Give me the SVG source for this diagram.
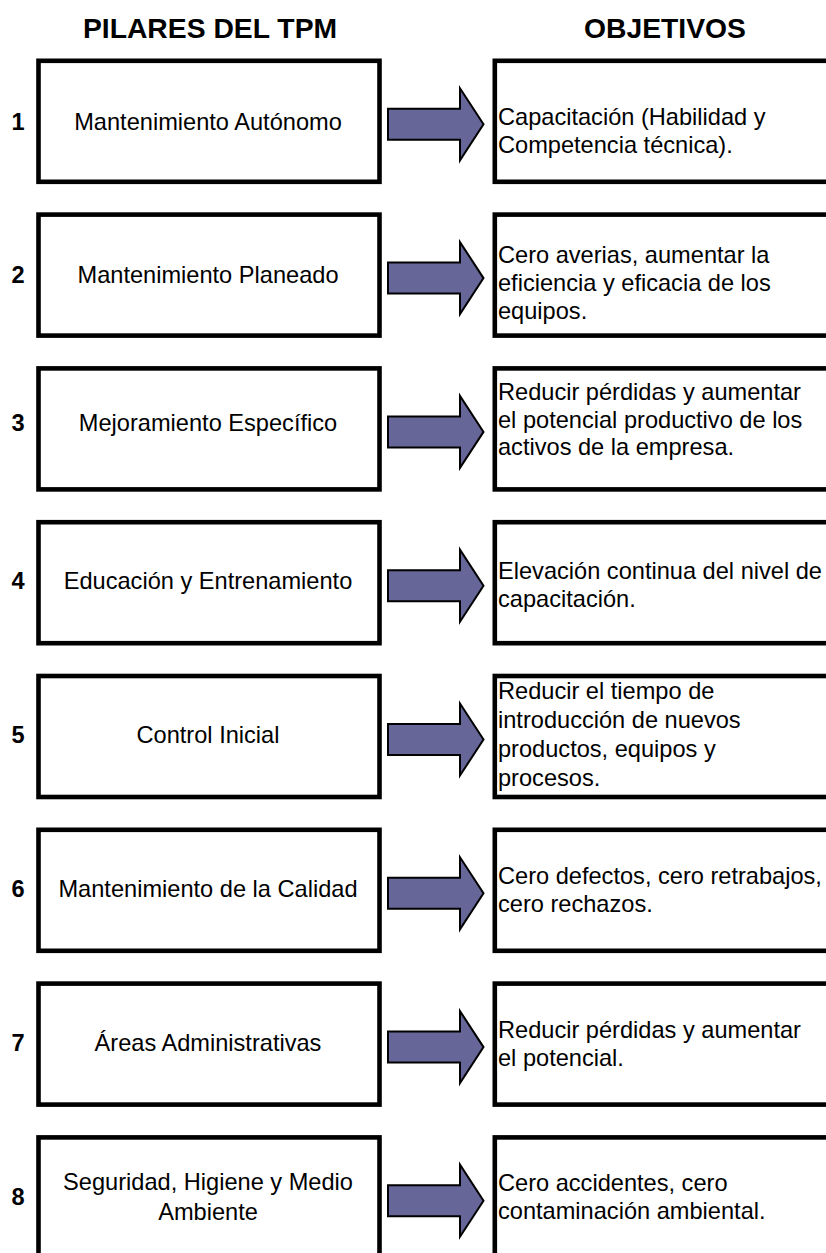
<svg xmlns="http://www.w3.org/2000/svg" width="826" height="1253" viewBox="0 0 826 1253">
<defs>
<style>
.bg{fill:#ffffff}
.box{fill:#ffffff;stroke:#000000;stroke-width:4.6}
.arrow{fill:#666699;stroke:#000000;stroke-width:2;stroke-linejoin:miter}
.t{font-family:"Liberation Sans",Arial,sans-serif;font-size:23.6px;fill:#000000}
.c{text-anchor:middle}
.b{font-weight:bold}
.h{font-family:"Liberation Sans",Arial,sans-serif;font-size:28.3px;font-weight:bold;fill:#000000;text-anchor:middle}
</style>
<polygon id="arr" class="arrow" points="388,-15.5 460,-15.5 460,-36 483.5,0 460,36 460,15.5 388,15.5"/>
</defs>
<rect class="bg" x="0" y="0" width="826" height="1253"/>
<g id="headers">
<text class="h" x="210" y="37.5">PILARES DEL TPM</text>
<text class="h" x="665" y="37.5">OBJETIVOS</text>
</g>

<g id="pillar1">
<text class="t b c" x="18" y="130">1</text>
<rect class="box" x="38.5" y="60.8" width="341" height="121"/>
<text class="t c" x="208" y="130">Mantenimiento Autónomo</text>
</g>
<g id="objective1">
<rect class="box" x="494.8" y="60.8" width="400" height="121"/>
<text class="t" x="498" y="124.5">Capacitación (Habilidad y</text>
<text class="t" x="498" y="152.5">Competencia técnica).</text>
</g>

<g id="pillar2">
<text class="t b c" x="18" y="283">2</text>
<rect class="box" x="38.5" y="214.6" width="341" height="121"/>
<text class="t c" x="208" y="283">Mantenimiento Planeado</text>
</g>
<g id="objective2">
<rect class="box" x="494.8" y="214.6" width="400" height="121"/>
<text class="t" x="498" y="263.3">Cero averias, aumentar la</text>
<text class="t" x="498" y="291">eficiencia y eficacia de los</text>
<text class="t" x="498" y="318.5">equipos.</text>
</g>

<g id="pillar3">
<text class="t b c" x="18" y="430.7">3</text>
<rect class="box" x="38.5" y="368.4" width="341" height="121"/>
<text class="t c" x="208" y="430.7">Mejoramiento Específico</text>
</g>
<g id="objective3">
<rect class="box" x="494.8" y="368.4" width="400" height="121"/>
<text class="t" x="498" y="400">Reducir pérdidas y aumentar</text>
<text class="t" x="498" y="427.5">el potencial productivo de los</text>
<text class="t" x="498" y="455">activos de la empresa.</text>
</g>

<g id="pillar4">
<text class="t b c" x="18" y="589">4</text>
<rect class="box" x="38.5" y="522.2" width="341" height="121"/>
<text class="t c" x="208" y="589">Educación y Entrenamiento</text>
</g>
<g id="objective4">
<rect class="box" x="494.8" y="522.2" width="400" height="121"/>
<text class="t" x="498" y="579">Elevación continua del nivel de</text>
<text class="t" x="498" y="606.7">capacitación.</text>
</g>

<g id="pillar5">
<text class="t b c" x="18" y="743">5</text>
<rect class="box" x="38.5" y="676" width="341" height="121"/>
<text class="t c" x="208" y="743">Control Inicial</text>
</g>
<g id="objective5">
<rect class="box" x="494.8" y="676" width="400" height="121"/>
<text class="t" x="498" y="699.3">Reducir el tiempo de</text>
<text class="t" x="498" y="728.3">introducción de nuevos</text>
<text class="t" x="498" y="757.3">productos, equipos y</text>
<text class="t" x="498" y="786.3">procesos.</text>
</g>

<g id="pillar6">
<text class="t b c" x="18" y="897">6</text>
<rect class="box" x="38.5" y="829.8" width="341" height="121"/>
<text class="t c" x="208" y="897">Mantenimiento de la Calidad</text>
</g>
<g id="objective6">
<rect class="box" x="494.8" y="829.8" width="400" height="121"/>
<text class="t" x="498" y="884">Cero defectos, cero retrabajos,</text>
<text class="t" x="498" y="911.7">cero rechazos.</text>
</g>

<g id="pillar7">
<text class="t b c" x="18" y="1051">7</text>
<rect class="box" x="38.5" y="983.6" width="341" height="121"/>
<text class="t c" x="208" y="1051">Áreas Administrativas</text>
</g>
<g id="objective7">
<rect class="box" x="494.8" y="983.6" width="400" height="121"/>
<text class="t" x="498" y="1038.3">Reducir pérdidas y aumentar</text>
<text class="t" x="498" y="1066">el potencial.</text>
</g>

<g id="pillar8">
<text class="t b c" x="18" y="1205">8</text>
<rect class="box" x="38.5" y="1137.4" width="341" height="121"/>
<text class="t c" x="208" y="1190">Seguridad, Higiene y Medio</text>
<text class="t c" x="208" y="1220">Ambiente</text>
</g>
<g id="objective8">
<rect class="box" x="494.8" y="1137.4" width="400" height="121"/>
<text class="t" x="498" y="1190.5">Cero accidentes, cero</text>
<text class="t" x="498" y="1219">contaminación ambiental.</text>
</g>

<g id="connectors">
<use href="#arr" x="0" y="124.3"/>
<use href="#arr" x="0" y="278.1"/>
<use href="#arr" x="0" y="431.9"/>
<use href="#arr" x="0" y="585.7"/>
<use href="#arr" x="0" y="739.5"/>
<use href="#arr" x="0" y="893.3"/>
<use href="#arr" x="0" y="1047.1"/>
<use href="#arr" x="0" y="1200.7"/>
</g>
</svg>
